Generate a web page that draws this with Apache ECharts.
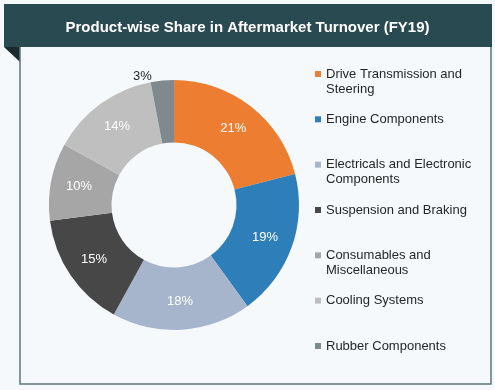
<!DOCTYPE html>
<html><head><meta charset="utf-8">
<script src="https://cdn.jsdelivr.net/npm/echarts@6/dist/echarts.min.js"></script>
<style>html,body{margin:0;padding:0;background:#f5f9fc}#c{width:495px;height:390px}</style>
</head><body><div id="c"></div>
<script>
const titleText = 'Product-wise Share in Aftermarket Turnover (FY19)';
const categories = ['Drive Transmission and Steering', 'Engine Components', 'Electricals and Electronic Components', 'Suspension and Braking', 'Consumables and Miscellaneous', 'Cooling Systems', 'Rubber Components'];
const legendLabels = ['Drive Transmission and\nSteering', 'Engine Components', 'Electricals and Electronic\nComponents', 'Suspension and Braking', 'Consumables and\nMiscellaneous', 'Cooling Systems', 'Rubber Components'];
const shares = [21, 19, 18, 15, 10, 14, 3];
const colors = ['#ED7D31', '#2E7EBA', '#A6B5CB', '#474747', '#A6A6A6', '#BFBFBF', '#7F8A8F'];
const outsideLabelIndex = 6;

const chart = echarts.init(document.getElementById('c'), null, {renderer: 'canvas'});
const FONT = '"Liberation Sans", Arial, sans-serif';

const pieData = categories.map((n, i) => {
  const d = {name: n, value: shares[i], itemStyle: {color: colors[i]}};
  if (i === outsideLabelIndex) {
    d.label = {position: 'outside', color: '#262626', distanceToLabelLine: 2};
    d.labelLine = {show: false, length: 4, length2: 8};
  }
  return d;
});

// Pad every legend entry to three text lines so the icon sits on the first line
// and all entries share the same height.
function legendText(name) {
  const lbl = legendLabels[categories.indexOf(name)];
  return lbl.indexOf('\n') >= 0 ? '\n' + lbl : '\n' + lbl + '\n';
}

chart.setOption({
  backgroundColor: '#f5f9fc',
  animation: false,
  graphic: [
    {type: 'rect', shape: {x: 4, y: 4, width: 488, height: 43}, style: {fill: '#2a4a51'}, z: 0},
    {type: 'polygon', shape: {points: [[4, 47], [20, 47], [20, 62]]}, style: {fill: '#1b2a2f'}, z: 0},
    {type: 'polyline', shape: {points: [[20, 47], [20, 384], [491, 384], [491, 47]]}, style: {stroke: '#5f7479', lineWidth: 1.5, fill: null}, z: 0}
  ],
  title: {
    text: titleText,
    left: 'center',
    top: 20,
    padding: 0,
    textStyle: {color: '#ffffff', fontSize: 15, fontWeight: 'bold', fontFamily: FONT}
  },
  legend: {
    orient: 'vertical',
    left: 315,
    top: 51.5,
    padding: 0,
    itemGap: 0.33,
    itemWidth: 6,
    itemHeight: 6,
    icon: 'rect',
    data: categories,
    formatter: legendText,
    textStyle: {color: '#262626', fontSize: 13, lineHeight: 15, fontFamily: FONT}
  },
  series: [{
    type: 'pie',
    center: [174, 205],
    radius: [62.5, 125],
    startAngle: 90,
    clockwise: true,
    label: {position: 'inside', formatter: '{c}%', color: '#ffffff', fontSize: 13, fontFamily: FONT},
    labelLine: {show: false},
    itemStyle: {borderWidth: 0},
    emphasis: {disabled: true},
    data: pieData
  }]
});
</script></body></html>
